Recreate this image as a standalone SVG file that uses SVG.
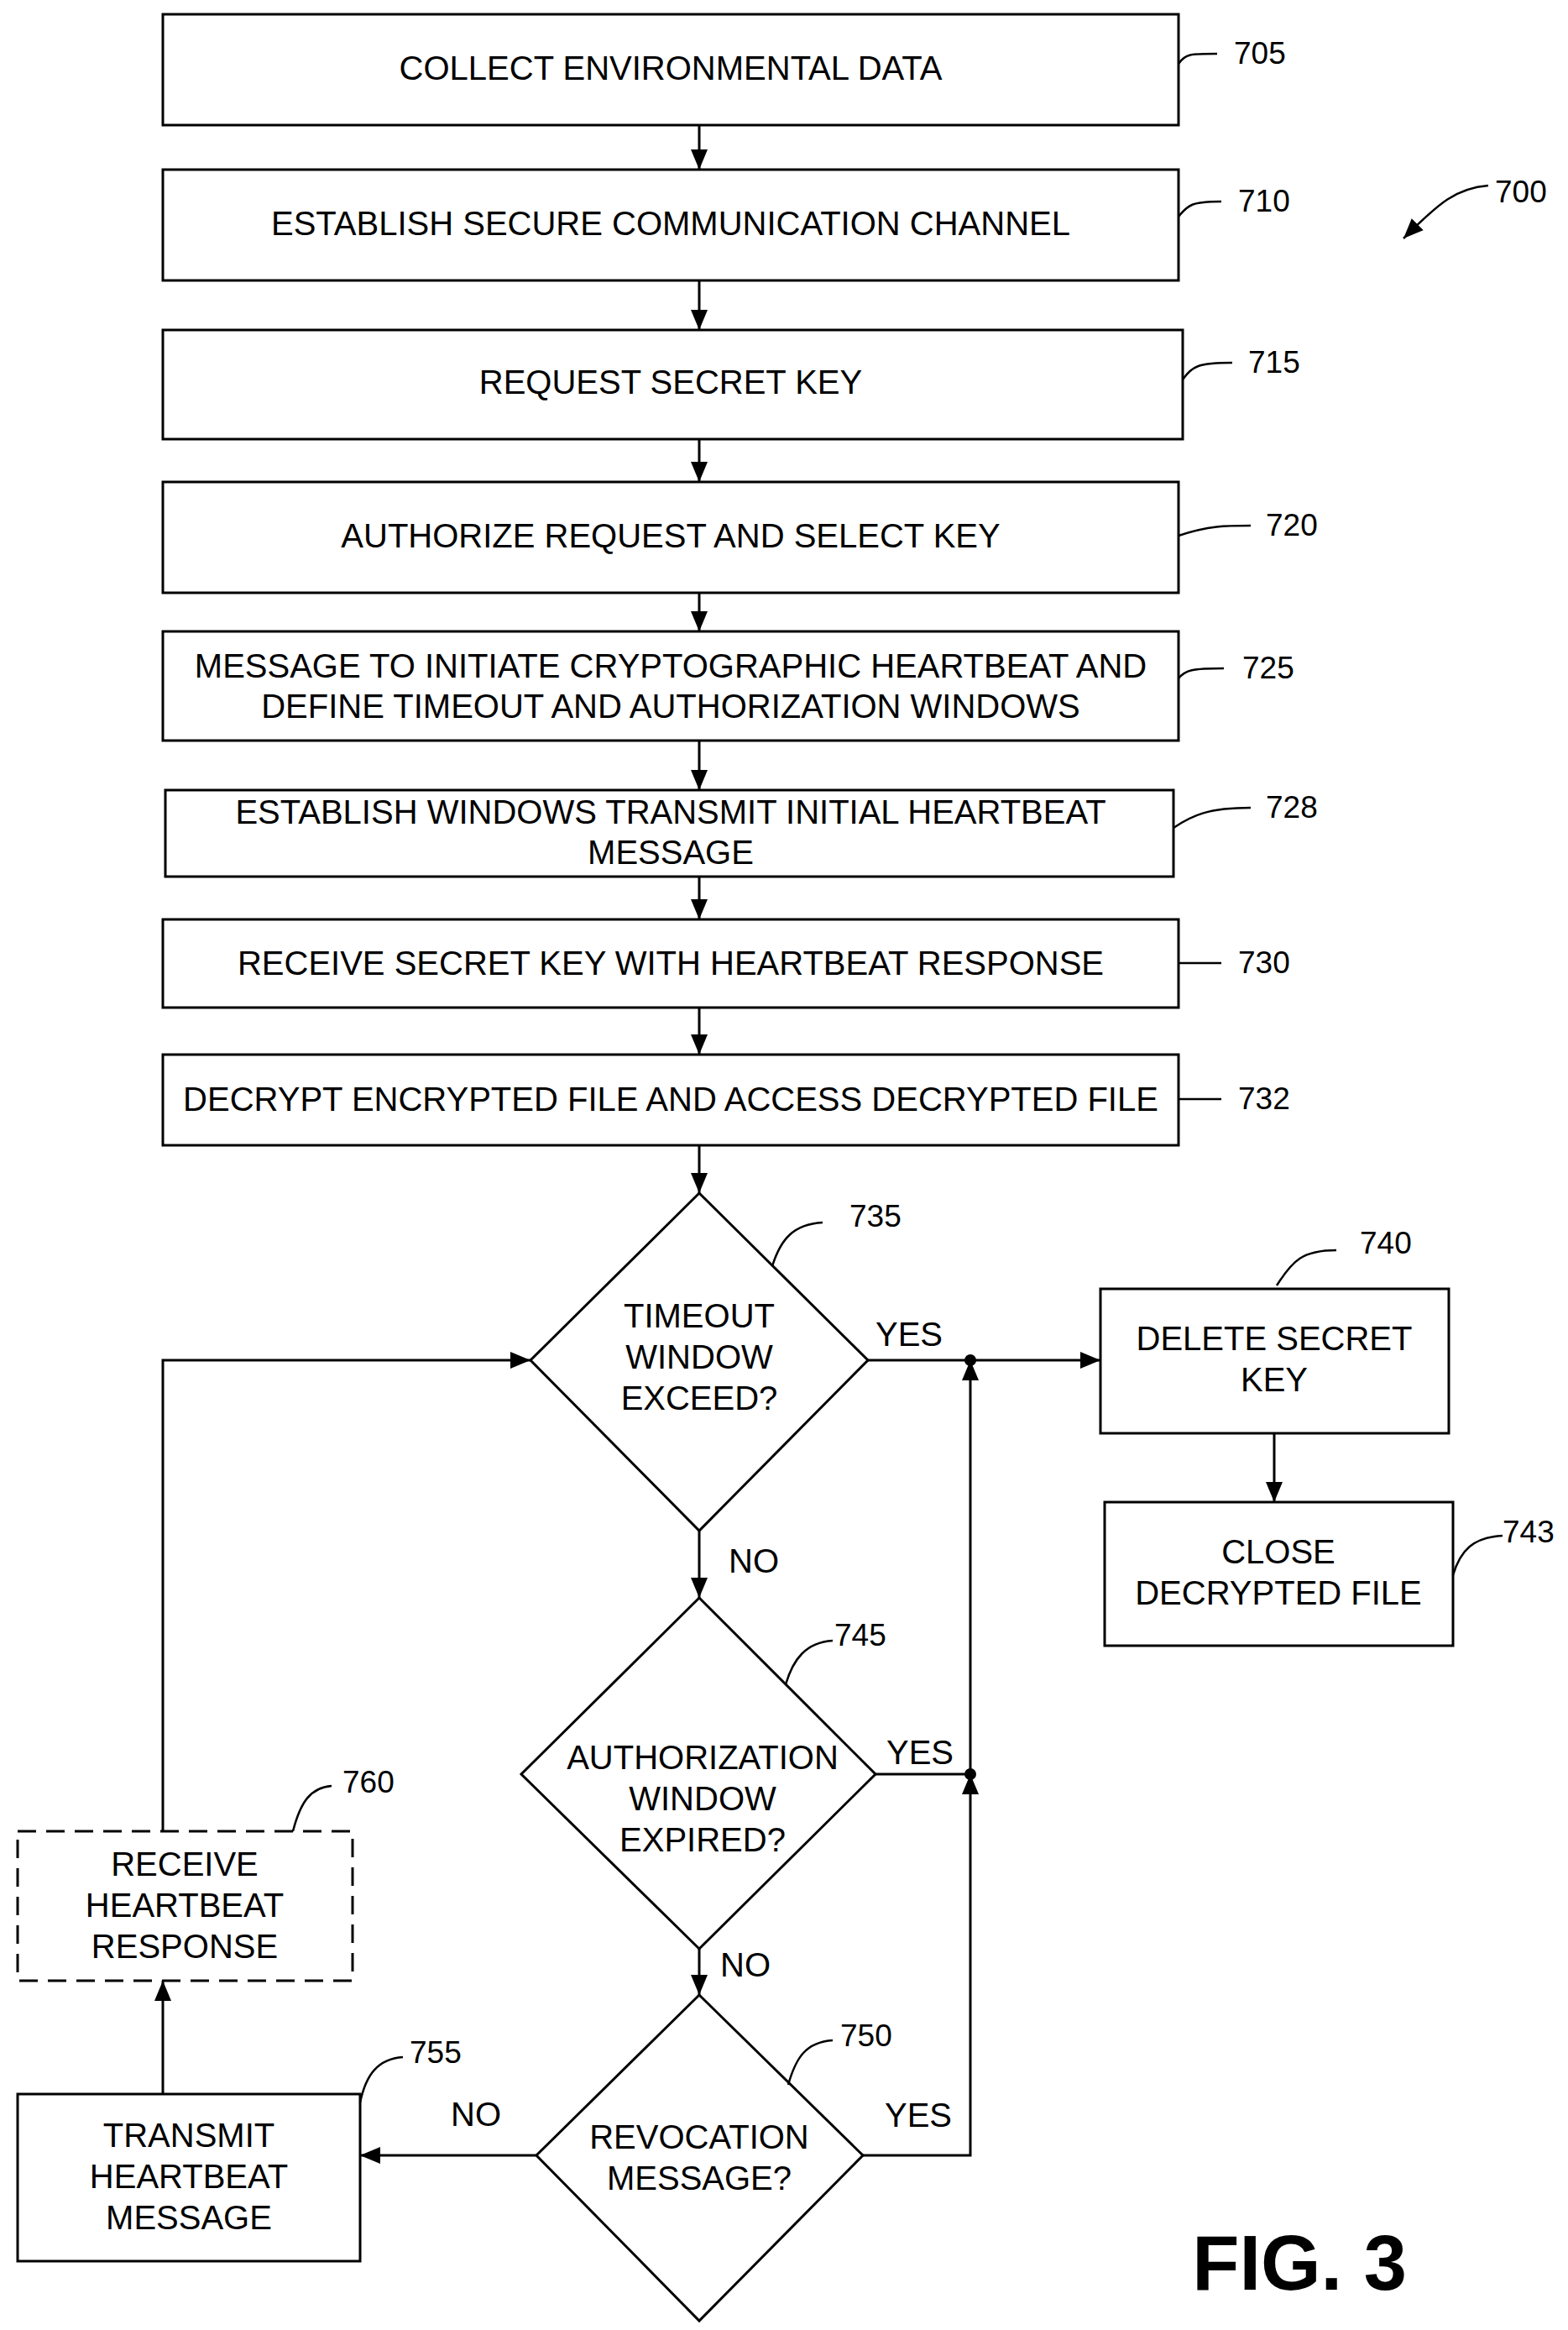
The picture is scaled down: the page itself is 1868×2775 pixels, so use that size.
<svg xmlns="http://www.w3.org/2000/svg" width="1868" height="2775" viewBox="0 0 1868 2775">
<style>
.b{fill:#fff;stroke:#000;stroke-width:3}
.t{font-family:"Liberation Sans",Arial,sans-serif;font-size:40px;text-anchor:middle;fill:#000}
.n{font-family:"Liberation Sans",Arial,sans-serif;font-size:37px;fill:#000}
.c{fill:none;stroke:#000;stroke-width:3}
.l{fill:none;stroke:#000;stroke-width:2.5}
</style>
<defs>
<marker id="A" markerWidth="24" markerHeight="20" refX="24" refY="10" orient="auto" markerUnits="userSpaceOnUse"><path d="M0,0L24,10L0,20z" fill="#000"/></marker></defs>
<g transform="translate(0,-4)">
<g id="n705"><rect class="b" x="194" y="21" width="1210" height="132"/><text class="t" x="799" y="99">COLLECT ENVIRONMENTAL DATA</text></g>
<g id="n710"><rect class="b" x="194" y="206" width="1210" height="132"/><text class="t" x="799" y="284">ESTABLISH SECURE COMMUNICATION CHANNEL</text></g>
<g id="n715"><rect class="b" x="194" y="397" width="1215" height="130"/><text class="t" x="799" y="473">REQUEST SECRET KEY</text></g>
<g id="n720"><rect class="b" x="194" y="578" width="1210" height="132"/><text class="t" x="799" y="656">AUTHORIZE REQUEST AND SELECT KEY</text></g>
<g id="n725"><rect class="b" x="194" y="756" width="1210" height="130"/><text class="t" x="799" y="811">MESSAGE TO INITIATE CRYPTOGRAPHIC HEARTBEAT AND</text><text class="t" x="799" y="859">DEFINE TIMEOUT AND AUTHORIZATION WINDOWS</text></g>
<g id="n728"><rect class="b" x="197" y="945" width="1201" height="103"/><text class="t" x="799" y="985">ESTABLISH WINDOWS TRANSMIT INITIAL HEARTBEAT</text><text class="t" x="799" y="1033">MESSAGE</text></g>
<g id="n730"><rect class="b" x="194" y="1099" width="1210" height="105"/><text class="t" x="799" y="1165">RECEIVE SECRET KEY WITH HEARTBEAT RESPONSE</text></g>
<g id="n732"><rect class="b" x="194" y="1260" width="1210" height="108"/><text class="t" x="799" y="1327">DECRYPT ENCRYPTED FILE AND ACCESS DECRYPTED FILE</text></g>
<g id="n735"><path class="b" d="M833,1425L1034,1624L833,1827L632,1624z"/><text class="t" x="833" y="1585">TIMEOUT</text><text class="t" x="833" y="1634">WINDOW</text><text class="t" x="833" y="1683">EXCEED?</text></g>
<g id="n745"><path class="b" d="M833,1907L1043,2117L833,2325L621,2117z"/><text class="t" x="837" y="2111">AUTHORIZATION</text><text class="t" x="837" y="2160">WINDOW</text><text class="t" x="837" y="2209">EXPIRED?</text></g>
<g id="n750"><path class="b" d="M833,2380L1028,2571L833,2768L639,2571z"/><text class="t" x="833" y="2563">REVOCATION</text><text class="t" x="833" y="2612">MESSAGE?</text></g>
<g id="n740"><rect class="b" x="1311" y="1539" width="415" height="172"/><text class="t" x="1518" y="1612">DELETE SECRET</text><text class="t" x="1518" y="1661">KEY</text></g>
<g id="n743"><rect class="b" x="1316" y="1793" width="415" height="171"/><text class="t" x="1523" y="1866">CLOSE</text><text class="t" x="1523" y="1915">DECRYPTED FILE</text></g>
<g id="n760"><rect class="b" x="21" y="2185" width="399" height="178" stroke-dasharray="22,12"/><text class="t" x="220" y="2238">RECEIVE</text><text class="t" x="220" y="2287">HEARTBEAT</text><text class="t" x="220" y="2336">RESPONSE</text></g>
<g id="n755"><rect class="b" x="21" y="2498" width="408" height="199"/><text class="t" x="225" y="2561">TRANSMIT</text><text class="t" x="225" y="2610">HEARTBEAT</text><text class="t" x="225" y="2659">MESSAGE</text></g>
<g id="connectors">
<path class="c" marker-end="url(#A)" d="M833,153V206"/>
<path class="c" marker-end="url(#A)" d="M833,338V397"/>
<path class="c" marker-end="url(#A)" d="M833,527V578"/>
<path class="c" marker-end="url(#A)" d="M833,710V756"/>
<path class="c" marker-end="url(#A)" d="M833,886V945"/>
<path class="c" marker-end="url(#A)" d="M833,1048V1099"/>
<path class="c" marker-end="url(#A)" d="M833,1204V1260"/>
<path class="c" marker-end="url(#A)" d="M833,1368V1425"/>
<path class="c" marker-end="url(#A)" d="M833,1827V1907"/>
<path class="c" marker-end="url(#A)" d="M833,2325V2380"/>
<path class="c" marker-end="url(#A)" d="M1034,1624H1311"/>
<path class="c" marker-end="url(#A)" d="M1518,1711V1793"/>
<path class="c" d="M1043,2117H1156"/>
<path class="c" marker-end="url(#A)" d="M1156,2117V1624"/>
<path class="c" marker-end="url(#A)" d="M1028,2571H1156V2117"/>
<circle cx="1156" cy="1624" r="7"/><circle cx="1156" cy="2117" r="7"/>
<path class="c" marker-end="url(#A)" d="M639,2571H429"/>
<path class="c" marker-end="url(#A)" d="M194,2498V2363"/>
<path class="c" marker-end="url(#A)" d="M194,2185V1624H632"/>
<text class="t" x="1083" y="1607">YES</text><text class="t" x="1096" y="2105">YES</text><text class="t" x="1094" y="2537">YES</text>
<text class="t" x="898" y="1877">NO</text><text class="t" x="888" y="2358">NO</text><text class="t" x="567" y="2536">NO</text>
<path class="l" d="M1404,80C1412,68 1418,68 1450,68"/><text class="n" x="1470" y="80">705</text>
<path class="l" d="M1404,262C1415,248 1420,244 1455,244"/><text class="n" x="1475" y="256">710</text>
<path class="l" d="M1409,456C1420,440 1428,436 1468,436"/><text class="n" x="1487" y="448">715</text>
<path class="l" d="M1404,642C1440,630 1460,630 1490,630"/><text class="n" x="1508" y="642">720</text>
<path class="l" d="M1404,812C1412,802 1420,800 1458,800"/><text class="n" x="1480" y="812">725</text>
<path class="l" d="M1398,990C1420,975 1440,966 1490,966"/><text class="n" x="1508" y="978">728</text>
<path class="l" d="M1404,1151H1455"/><text class="n" x="1475" y="1163">730</text>
<path class="l" d="M1404,1313H1455"/><text class="n" x="1475" y="1325">732</text>
<text class="n" x="1781" y="245">700</text>
<path class="l" marker-end="url(#A)" d="M1773,225C1735,228 1715,245 1672,288"/>
<path class="l" d="M920,1512C930,1480 945,1462 980,1460"/><text class="n" x="1012" y="1465">735</text>
<path class="l" d="M1521,1535C1540,1505 1552,1493 1592,1493"/><text class="n" x="1620" y="1497">740</text>
<path class="l" d="M1731,1880C1740,1850 1755,1835 1790,1833"/><text class="n" x="1790" y="1841">743</text>
<path class="l" d="M936,2010C945,1980 960,1960 992,1958"/><text class="n" x="994" y="1964">745</text>
<path class="l" d="M349,2185C358,2150 370,2133 395,2131"/><text class="n" x="408" y="2139">760</text>
<path class="l" d="M939,2487C948,2455 960,2436 992,2434"/><text class="n" x="1001" y="2441">750</text>
<path class="l" d="M429,2508C436,2475 450,2456 480,2454"/><text class="n" x="488" y="2461">755</text>
</g>
<text x="1548" y="2731" font-family="Liberation Sans,Arial,sans-serif" font-size="92" font-weight="bold" text-anchor="middle">FIG. 3</text>
</g>
</svg>
